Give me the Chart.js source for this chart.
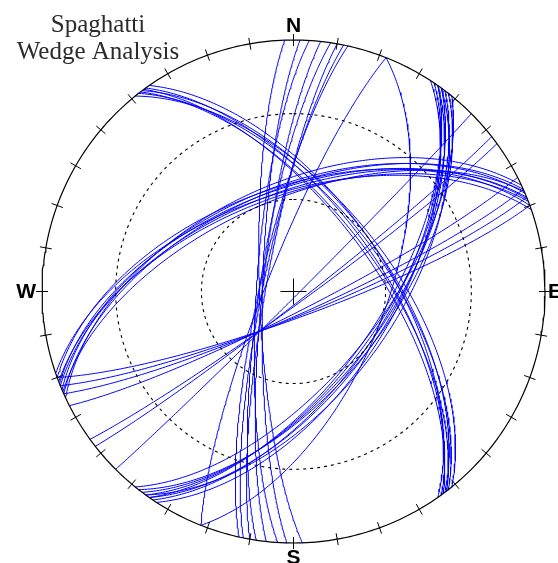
<!DOCTYPE html>
<html>
<head>
<meta charset="utf-8">
<script src="https://cdn.jsdelivr.net/npm/chart.js@4.4.0/dist/chart.umd.min.js"></script>
<style>
  html, body { margin: 0; padding: 0; background: #ffffff; }
  canvas { display: block; }
</style>
</head>
<body>
<canvas id="net" width="558" height="563"></canvas>
<script>
// Sampled joint planes: dip direction and dip (degrees), lower-hemisphere stereonet
const setA_dipDir = [268, 271.5, 273.6, 276.2, 278.5, 280, 281.5, 282.5];
const setA_dip    = [79, 80, 78, 80, 79, 81, 80, 79];

const setB_dipDir = [123, 124, 125, 126, 126, 127, 128, 129, 125];
const setB_dip    = [58, 60, 59, 61, 57, 60, 59, 62, 62];

const setC_dipDir = [51, 52, 52.5, 53, 54, 55, 53.5];
const setC_dip    = [59, 61, 63, 60, 62, 60, 64];

const setD_dipDir = [335, 336, 337, 338, 338.5, 339, 336.5, 340, 341];
const setD_dip    = [55, 57, 56, 58, 57, 59, 60, 56, 58];

const setE_dipDir = [160, 158, 156, 153, 144, 142, 135];
const setE_dip    = [81.5, 82, 82.5, 83.5, 86, 86.5, 88.5];

const setF_dipDir = [291.6, 111.6];
const setF_dip    = [81, 60];

// Net furniture
const tickAzimuths = [0, 10, 20, 30, 40, 50, 60, 70, 80, 90, 100, 110, 120, 130, 140, 150, 160, 170,
                      180, 190, 200, 210, 220, 230, 240, 250, 260, 270, 280, 290, 300, 310, 320, 330, 340, 350];
const cardinalLabels = ['N', 'E', 'S', 'W'];
const guideCirclePlunges = [60, 30];
const titleLines = ['Spaghatti', 'Wedge Analysis'];

const rad = d => d * Math.PI / 180;

// Equal-area (Schmidt) projection of a direction given by east/north/down components
function projectVec(e, n, z) {
  const k = 1 / Math.sqrt(1 + z);
  return { x: e * k, y: n * k };
}

function greatCircle(dipDir, dip) {
  const s = rad(dipDir - 90), d = rad(dipDir), dp = rad(dip);
  const S = [Math.sin(s), Math.cos(s), 0];
  const D = [Math.sin(d) * Math.cos(dp), Math.cos(d) * Math.cos(dp), Math.sin(dp)];
  const pts = [];
  for (let l = 0; l <= 180; l += 1) {
    const c = Math.cos(rad(l)), sn = Math.sin(rad(l));
    pts.push(projectVec(c * S[0] + sn * D[0], c * S[1] + sn * D[1], c * S[2] + sn * D[2]));
  }
  return pts;
}

// Circle of constant plunge about the vertical axis
function coneCircle(plunge) {
  const r = Math.sqrt(1 - Math.sin(rad(plunge)));
  const pts = [];
  for (let a = 0; a <= 360; a += 1) pts.push({ x: r * Math.sin(rad(a)), y: r * Math.cos(rad(a)) });
  return pts;
}

const datasets = [];

// primitive
datasets.push({
  data: coneCircle(0), borderColor: '#000000', borderWidth: 1.2,
  showLine: true, pointRadius: 0, fill: false, clip: false
});
guideCirclePlunges.forEach(p => datasets.push({
  data: coneCircle(p), borderColor: '#000000', borderWidth: 1.1, borderDash: [3, 4],
  showLine: true, pointRadius: 0, fill: false, clip: false
}));

const sets = [
  [setA_dipDir, setA_dip], [setB_dipDir, setB_dip], [setC_dipDir, setC_dip],
  [setD_dipDir, setD_dip], [setE_dipDir, setE_dip], [setF_dipDir, setF_dip]
];
sets.forEach(([dds, dips]) => {
  dds.forEach((dd, i) => datasets.push({
    data: greatCircle(dd, dips[i]), borderColor: '#0000ff', borderWidth: 1,
    showLine: true, pointRadius: 0, fill: false, clip: false, tension: 0
  }));
});

const netDecor = {
  id: 'netDecor',
  afterDatasetsDraw(chart) {
    const { ctx, scales: { x, y } } = chart;
    const cx = x.getPixelForValue(0), cy = y.getPixelForValue(0);
    const R = x.getPixelForValue(1) - cx;
    ctx.save();
    ctx.strokeStyle = '#000000';
    ctx.lineWidth = 1;
    // azimuth ticks
    tickAzimuths.forEach(a => {
      const sx = Math.sin(rad(a)), sy = Math.cos(rad(a));
      ctx.beginPath();
      ctx.moveTo(x.getPixelForValue(sx * (1 - 6 / R)), y.getPixelForValue(sy * (1 - 6 / R)));
      ctx.lineTo(x.getPixelForValue(sx * (1 + 6 / R)), y.getPixelForValue(sy * (1 + 6 / R)));
      ctx.stroke();
    });
    // centre cross
    ctx.beginPath();
    ctx.moveTo(cx - 13, cy); ctx.lineTo(cx + 13, cy);
    ctx.moveTo(cx, cy - 13); ctx.lineTo(cx, cy + 13);
    ctx.stroke();
    // cardinal letters
    ctx.fillStyle = '#000000';
    ctx.font = 'bold 21px "Liberation Sans", Arial, sans-serif';
    ctx.textAlign = 'center'; ctx.textBaseline = 'alphabetic';
    ctx.fillText(cardinalLabels[0], cx, y.getPixelForValue(1) - 8);
    ctx.textBaseline = 'top';
    ctx.fillText(cardinalLabels[2], cx, y.getPixelForValue(-1) + 5);
    ctx.textBaseline = 'middle';
    ctx.textAlign = 'left';
    ctx.fillText(cardinalLabels[1], x.getPixelForValue(1) + 3, cy + 1);
    ctx.textAlign = 'right';
    ctx.fillText(cardinalLabels[3], x.getPixelForValue(-1) - 6, cy + 1);
    // title
    ctx.fillStyle = '#2b2b2b';
    ctx.font = '25px "Liberation Serif", "Times New Roman", serif';
    ctx.textAlign = 'center'; ctx.textBaseline = 'alphabetic';
    ctx.fillText(titleLines[0], 98, 32);
    ctx.fillText(titleLines[1], 98, 59);
    ctx.restore();
  }
};

new Chart(document.getElementById('net'), {
  type: 'scatter',
  data: { datasets },
  options: {
    responsive: false,
    animation: false,
    layout: { padding: { left: 42, right: 13, top: 40, bottom: 20 } },
    plugins: { legend: { display: false }, tooltip: { enabled: false }, title: { display: false } },
    scales: {
      x: { type: 'linear', min: -1, max: 1, display: false },
      y: { type: 'linear', min: -1, max: 1, display: false }
    },
    elements: { line: { tension: 0 } }
  },
  plugins: [netDecor]
});
</script>
</body>
</html>
